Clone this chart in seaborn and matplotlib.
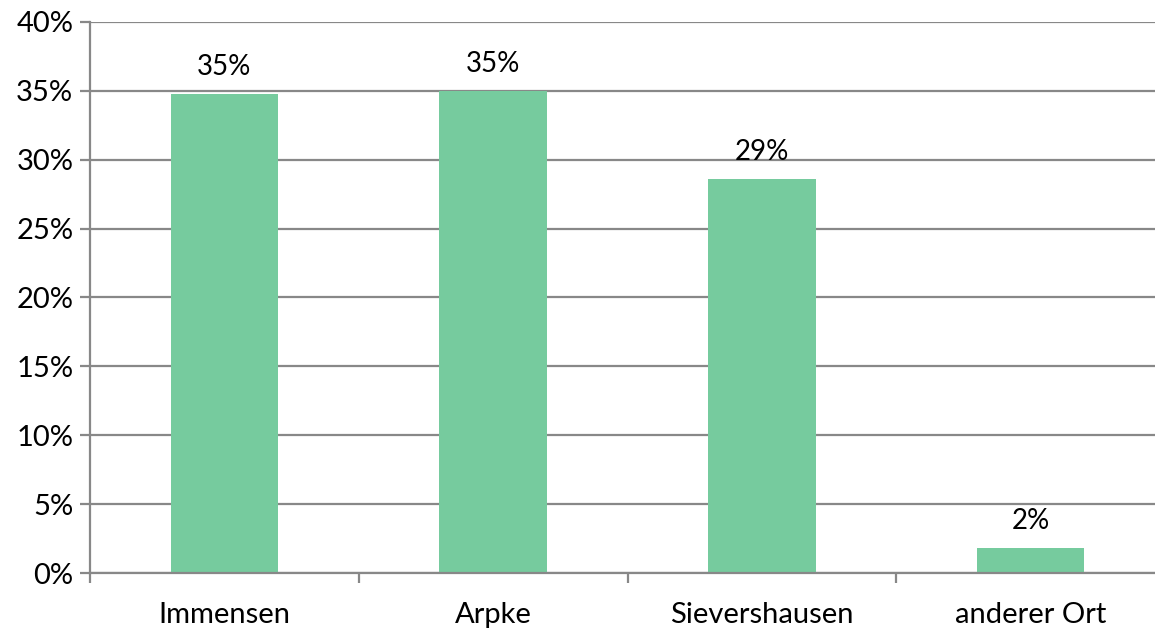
import matplotlib
matplotlib.use("Agg")
import matplotlib.pyplot as plt
import seaborn as sns
import pandas as pd
from matplotlib.ticker import FuncFormatter, FixedLocator

categories = ["Immensen", "Arpke", "Sievershausen", "anderer Ort"]
values = [34.8, 35.0, 28.6, 1.8]
yticks = [0, 5, 10, 15, 20, 25, 30, 35, 40]

sns.set_theme(style="white")
plt.rcParams['font.family'] = ['Lato', 'DejaVu Sans']

df = pd.DataFrame({"cat": categories, "val": values})

fig = plt.figure(figsize=(11.55, 6.31), dpi=100)
ax = fig.add_axes([90/1155, 58/631, 1075/1155, 551/631])
sns.barplot(data=df, x="cat", y="val", color="#76CB9E", saturation=1, width=0.4,
            linewidth=0, ax=ax)

ax.set_ylim(0, 40)
ax.set_xlim(-0.5, 3.5)
ax.set_yticks(yticks)
ax.yaxis.set_major_formatter(FuncFormatter(lambda v, p: f"{int(v)}%"))
ax.set_xlabel("")
ax.set_ylabel("")
ax.grid(axis="y", color="#888888", linewidth=1.6)
ax.set_axisbelow(True)
for s in ["top", "right"]:
    ax.spines[s].set_visible(False)
ax.spines["left"].set_color("#888888")
ax.spines["left"].set_linewidth(1.6)
ax.spines["bottom"].set_color("#888888")
ax.spines["bottom"].set_linewidth(1.6)

ax.tick_params(axis="y", which="major", left=True, length=7, width=1.6, color="#888888",
               labelsize=21, pad=5, labelcolor="black")
ax.tick_params(axis="x", which="major", bottom=False, labelsize=21, pad=15, labelcolor="black")
ax.xaxis.set_minor_locator(FixedLocator([-0.5, 0.5, 1.5, 2.5, 3.5]))
ax.tick_params(axis="x", which="minor", bottom=True, length=7, width=1.6, color="#888888")

for i, v in enumerate(values):
    ax.annotate(f"{round(v):.0f}%", (i, v), xytext=(0, 10), textcoords="offset points",
                ha="center", va="bottom", fontsize=20, color="black")

fig.savefig("out.png", dpi=100)
